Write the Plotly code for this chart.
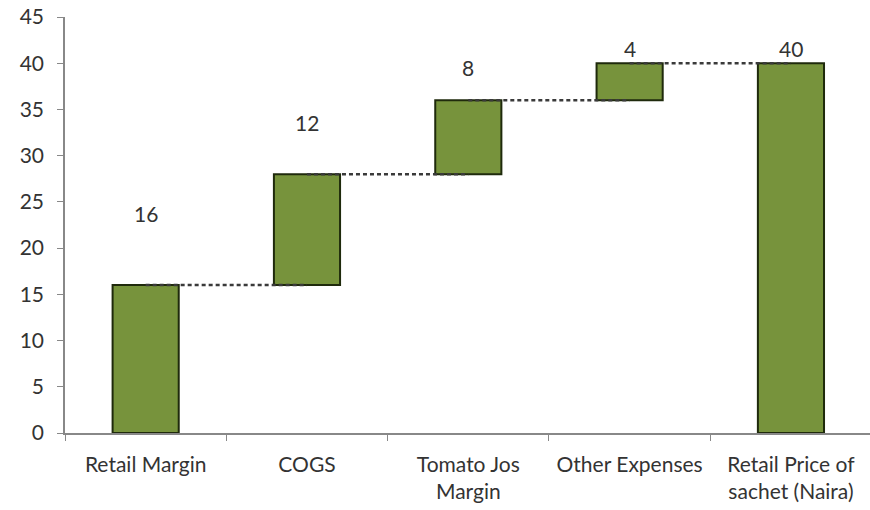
import plotly.graph_objects as go

categories = ["Retail Margin", "COGS", "Tomato Jos<br>Margin", "Other Expenses", "Retail Price of<br>sachet (Naira)"]
values = [16, 12, 8, 4, 40]
is_total = [False, False, False, False, True]
y_ticks = [0, 5, 10, 15, 20, 25, 30, 35, 40, 45]

# waterfall bases computed from values
bases = []
running = 0
for v, t in zip(values, is_total):
    if t:
        bases.append(0)
        running = v
    else:
        bases.append(running)
        running += v

FONT = "Lato, Open Sans, sans-serif"

fig = go.Figure()
fig.add_trace(go.Bar(
    x=categories, y=values, base=bases, width=0.41,
    marker=dict(color="#77933C", line=dict(color="#1f2a0c", width=2)),
    hoverinfo="skip", showlegend=False,
))

# dotted connectors from bar center to next bar center at running total
tops = [b + v for b, v in zip(bases, values)]
shapes = []
for i in range(len(values) - 1):
    shapes.append(dict(type="line", xref="x", yref="y",
                       x0=i, x1=i + 1, y0=tops[i], y1=tops[i],
                       line=dict(color="#3a3a3a", width=2.5, dash="4px,3px"), layer="above"))

label_offsets = [7.7, 5.6, 3.5, 1.6, 1.6]
annotations = []
for i, v in enumerate(values):
    annotations.append(dict(x=i, y=tops[i] + label_offsets[i], xref="x", yref="y",
                            text=str(v), showarrow=False,
                            font=dict(size=21, color="#333333", family=FONT)))

fig.update_layout(
    width=870, height=510,
    margin=dict(l=65, r=0, t=17, b=77),
    paper_bgcolor="white", plot_bgcolor="white",
    font=dict(family=FONT, size=21, color="#333333"),
    shapes=shapes, annotations=annotations,
    xaxis=dict(type="category", tickson="boundaries", ticks="outside", ticklen=6,
               range=[-0.5, 4.49], ticklabelstandoff=12, tickangle=0, automargin=False,
               tickcolor="#888888", showline=True, linecolor="#888888", linewidth=1.5,
               showgrid=False, tickfont=dict(size=21, color="#333333")),
    yaxis=dict(range=[0, 45], tickvals=y_ticks, ticks="outside", ticklen=6,
               ticklabelstandoff=9, automargin=False,
               tickcolor="#888888", showline=True, linecolor="#888888", linewidth=1.5,
               showgrid=False, zeroline=False, tickfont=dict(size=21, color="#333333")),
)

fig.write_html("out.html")
